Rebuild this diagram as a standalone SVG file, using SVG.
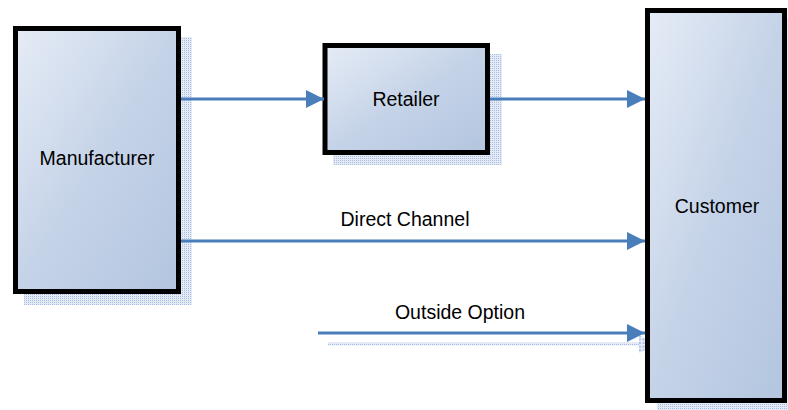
<svg xmlns="http://www.w3.org/2000/svg" width="788" height="410" viewBox="0 0 788 410">
<style>
.box{stroke:#000;stroke-width:5;fill:url(#g)}
.sh{fill:url(#hatch)}
.lbl{font-family:"Liberation Sans",Arial,sans-serif;font-size:19.5px;fill:#000;text-anchor:middle;dominant-baseline:central}
.conn{stroke:#4a7ebb;stroke-width:3;fill:none;marker-end:url(#ah)}
</style>
<defs>
<linearGradient id="g" x1="0" y1="0" x2="1" y2="1">
<stop offset="0" stop-color="#e6ecf6"/>
<stop offset="0.5" stop-color="#c5d3e8"/>
<stop offset="1" stop-color="#b3c5df"/>
</linearGradient>
<pattern id="hatch" width="2" height="2" patternUnits="userSpaceOnUse">
<rect width="2" height="2" fill="#e4eaf6"/>
<rect width="1" height="1" fill="#a9bde0"/>
</pattern>
<marker id="ah" viewBox="0 0 10 10" refX="10" refY="5" markerWidth="6" markerHeight="6" markerUnits="strokeWidth" orient="auto">
<path d="M0,0 L10,5 L0,10 Z" fill="#4a7ebb"/>
</marker>
<marker id="ahs" viewBox="0 0 10 10" refX="10" refY="5" markerWidth="6" markerHeight="6" markerUnits="strokeWidth" orient="auto">
<path d="M0,0 L10,5 L0,10 Z" fill="url(#hatch)"/>
</marker>
</defs>
<g id="shadow-outside">
<line x1="328" y1="344" x2="657" y2="344" stroke="url(#hatch)" stroke-width="3" marker-end="url(#ahs)"/>
</g>
<g id="manufacturer">
<rect class="sh" x="24" y="37" width="168" height="268"/>
<rect class="box" x="15.5" y="28.5" width="163" height="263"/>
<text class="lbl" x="97" y="158">Manufacturer</text>
</g>
<g id="retailer">
<rect class="sh" x="333" y="54" width="169" height="111"/>
<rect class="box" x="325" y="45.5" width="162.5" height="107"/>
<text class="lbl" x="406" y="99">Retailer</text>
</g>
<g id="customer">
<rect class="sh" x="657" y="18" width="131" height="392"/>
<rect class="box" x="647.5" y="10.5" width="137" height="390"/>
<text class="lbl" x="717" y="206">Customer</text>
</g>
<g id="connectors">
<line class="conn" x1="181" y1="99" x2="324" y2="99"/>
<line class="conn" x1="490" y1="99" x2="645" y2="99"/>
<line class="conn" x1="181" y1="241" x2="645" y2="241"/>
<line class="conn" x1="318" y1="333" x2="645" y2="333"/>
<text class="lbl" x="405" y="219">Direct Channel</text>
<text class="lbl" x="460" y="312">Outside Option</text>
</g>
</svg>
